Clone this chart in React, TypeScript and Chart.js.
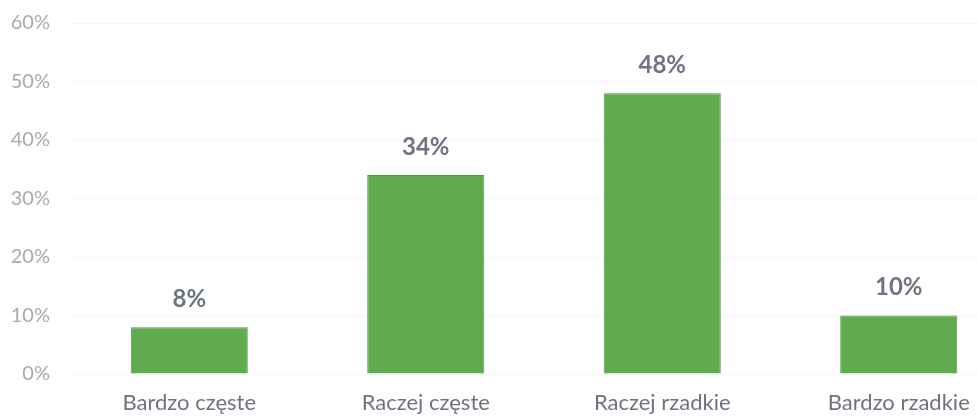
import React, { useEffect, useRef } from "react";
import { Chart, registerables } from "chart.js";

Chart.register(...registerables);

const categories = ["Bardzo częste", "Raczej częste", "Raczej rzadkie", "Bardzo rzadkie"];
const values = [8, 34, 48, 10];
const yTicks = [0, 10, 20, 30, 40, 50, 60];

const valueLabels = {
  id: "valueLabels",
  afterDatasetsDraw(chart: any) {
    const ctx = chart.ctx;
    const meta = chart.getDatasetMeta(0);
    ctx.save();
    ctx.font = "bold 24px Lato, 'Open Sans', sans-serif";
    ctx.fillStyle = "#6e7482";
    ctx.textAlign = "center";
    ctx.textBaseline = "middle";
    meta.data.forEach((el: any, i: number) => {
      ctx.fillText(values[i] + "%", el.x, el.y - 28);
    });
    ctx.restore();
  },
};

export default function App() {
  const ref = useRef<HTMLCanvasElement>(null);
  useEffect(() => {
    if (!ref.current) return;
    const chart = new Chart(ref.current, {
      type: "bar",
      data: {
        labels: categories,
        datasets: [
          {
            data: values,
            backgroundColor: "#5fab4e",
            borderColor: "#52994a",
            borderWidth: 1,
            barPercentage: 0.495,
            categoryPercentage: 1,
          },
        ],
      },
      options: {
        responsive: false,
        animation: false,
        layout: { padding: { top: 6, right: 3, left: 0, bottom: 0 } },
        plugins: { legend: { display: false }, tooltip: { enabled: false } },
        scales: {
          x: {
            grid: { display: false },
            border: { display: false },
            ticks: {
              color: "#6f7380",
              font: { family: "Lato, 'Open Sans', sans-serif", size: 22 },
              padding: 8,
              maxRotation: 0,
            },
            afterFit(scale: any) {
              scale.height = 45;
            },
          },
          y: {
            min: 0,
            max: 60,
            afterBuildTicks(scale: any) {
              scale.ticks = yTicks.map((v) => ({ value: v }));
            },
            grid: { color: "#f6f6f6", drawTicks: false },
            border: { display: false },
            ticks: {
              color: "#a7aab1",
              font: { family: "Lato, 'Open Sans', sans-serif", size: 20 },
              padding: 21,
              callback: (v: any) => v + "%",
            },
            afterFit(scale: any) {
              scale.width = 71;
            },
          },
        },
      },
      plugins: [valueLabels],
    });
    return () => chart.destroy();
  }, []);
  return (
    <div style={{ position: "fixed", left: 0, top: 0, width: 977, height: 419, overflow: "hidden", background: "#fff" }}>
      <canvas ref={ref} width={1020} height={429} style={{ display: "block", marginTop: -10 }} />
    </div>
  );
}
